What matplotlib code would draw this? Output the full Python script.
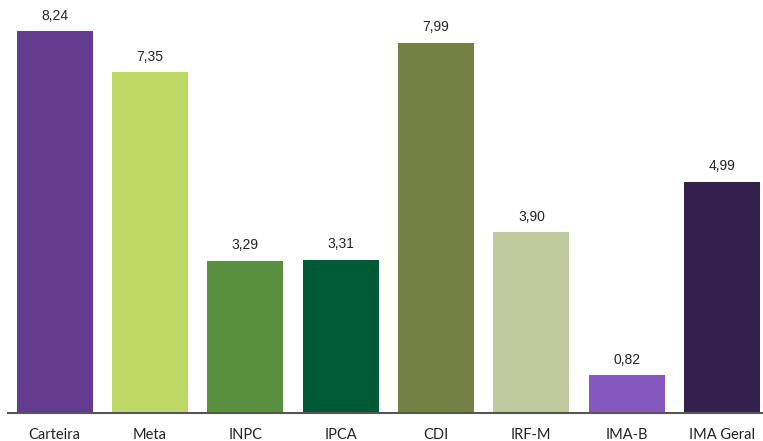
import matplotlib.pyplot as plt

categorias = ['Carteira', 'Meta', 'INPC', 'IPCA', 'CDI', 'IRF-M', 'IMA-B', 'IMA Geral']
valores = [8.24, 7.35, 3.29, 3.31, 7.99, 3.90, 0.82, 4.99]
cores = ['#633C8F', '#BDD865', '#5B8F40', '#005A36', '#738145', '#BFCA9F', '#8458BE', '#33204D']

fig = plt.figure(figsize=(7.63, 4.41), dpi=100)
ax = fig.add_axes([8 / 763, 28 / 441, 1 - 8 / 763, 413 / 441])

x = range(len(categorias))
bars = ax.bar(x, valores, width=0.8, color=cores)

for b, v in zip(bars, valores):
    ax.annotate(f'{v:.2f}'.replace('.', ','),
                (b.get_x() + b.get_width() / 2, v),
                xytext=(0, 6), textcoords='offset points',
                ha='center', va='bottom', fontsize=10,
                family='Liberation Sans', color='#222222')

ax.set_xlim(-0.49, 7.43)
ax.set_ylim(0, 8.91)
ax.set_xticks(list(x))
ax.set_xticklabels(categorias, family='Lato', fontsize=10.5, color='#222222')
ax.tick_params(axis='x', length=0, pad=11)
ax.set_yticks([])
for s in ['top', 'right', 'left']:
    ax.spines[s].set_visible(False)
ax.spines['bottom'].set_color('#555555')
ax.spines['bottom'].set_linewidth(1.5)

fig.savefig('out.png', dpi=100)
